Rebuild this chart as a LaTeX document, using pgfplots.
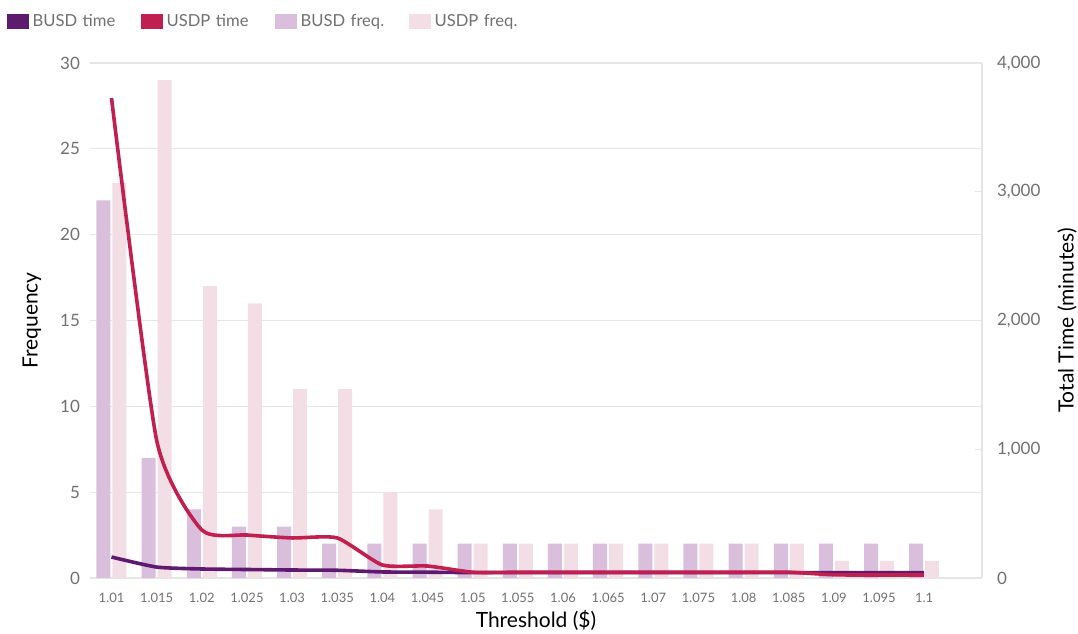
\documentclass[border=0pt]{standalone}
\usepackage{fontspec}
\setmainfont{Lato}
\usepackage{pgfplots}
\pgfplotsset{compat=1.18}
\definecolor{busdline}{HTML}{5E1A6E}
\definecolor{usdpline}{HTML}{C01F4F}
\definecolor{busdbar}{HTML}{D9BFDC}
\definecolor{usdpbar}{HTML}{F4DEE5}
\definecolor{ticklab}{HTML}{707070}
\definecolor{gridc}{HTML}{E6E6E6}
\begin{document}
\begin{tikzpicture}[x=0.5pt,y=0.5pt]
\useasboundingbox (-90,-55) rectangle (988,578);
\begin{axis}[
  at={(0,0)}, anchor=south west,
  scale only axis, width=446pt, height=257.5pt,
  xmin=-0.476, xmax=19.28, ymin=0, ymax=30,
  ytick={0,5,...,30},
  xtick={0,...,18},
  xticklabels={1.01,1.015,1.02,1.025,1.03,1.035,1.04,1.045,1.05,1.055,1.06,1.065,1.07,1.075,1.08,1.085,1.09,1.095,1.1},
  axis line style={draw=none},
  major tick length=0pt,
  ymajorgrids, grid style={gridc, line width=0.6pt},
  /pgf/number format/assume math mode=true,
  yticklabel style={font=\fontsize{8.5pt}{10pt}\selectfont, text=ticklab, xshift=-1.5pt},
  xticklabel style={font=\fontsize{6.5pt}{8pt}\selectfont, text=ticklab, yshift=-4pt},
  ylabel={Frequency},
  ylabel style={at={(axis description cs:-0.065,0.5)}, anchor=center, font=\fontsize{10.5pt}{12pt}\selectfont},
  xlabel={Threshold (\$)},
  xlabel style={at={(axis description cs:0.5,-0.0816)}, anchor=center, font=\fontsize{10.5pt}{12pt}\selectfont},
  legend columns=4,
  legend style={draw=none, at={(axis description cs:-0.094,1.096)}, anchor=north west,
    font=\fontsize{8.3pt}{10pt}\selectfont, text=ticklab, inner sep=0pt,
    nodes={text width=54pt, align=left, inner sep=0pt},
    /tikz/every odd column/.append style={column sep=2pt}},
  legend image code/.code={\fill[#1] (0pt,-3.75pt) rectangle (11pt,3.75pt);},
]
\addlegendimage{fill=busdline, draw=none}
\addlegendentry{BUSD time}
\addlegendimage{fill=usdpline, draw=none}
\addlegendentry{USDP time}
\addlegendimage{fill=busdbar, draw=none}
\addlegendentry{BUSD freq.}
\addlegendimage{fill=usdpbar, draw=none}
\addlegendentry{USDP freq.}
\addplot[ybar, bar width=7pt, bar shift=-4pt, fill=busdbar, draw=none, forget plot] coordinates {
(0,22) (1,7) (2,4) (3,3) (4,3) (5,2) (6,2) (7,2) (8,2) (9,2) (10,2) (11,2) (12,2) (13,2) (14,2) (15,2) (16,2) (17,2) (18,2)};
\addplot[ybar, bar width=7pt, bar shift=4pt, fill=usdpbar, draw=none, forget plot] coordinates {
(0,23) (1,29) (2,17) (3,16) (4,11) (5,11) (6,5) (7,4) (8,2) (9,2) (10,2) (11,2) (12,2) (13,2) (14,2) (15,2) (16,1) (17,1) (18,1)};
\end{axis}
\begin{axis}[
  at={(0,0)}, anchor=south west,
  scale only axis, width=446pt, height=257.5pt,
  xmin=-0.476, xmax=19.28, ymin=0, ymax=4000,
  axis x line=none,
  axis y line*=right,
  y axis line style={gridc, line width=0.6pt},
  ytick={0,1000,...,4000},
  tick align=inside, major tick length=3.5pt,
  major tick style={gridc, line width=0.6pt},
  /pgf/number format/1000 sep={,},
  /pgf/number format/assume math mode=true,
  yticklabel style={font=\fontsize{8.5pt}{10pt}\selectfont, text=ticklab, xshift=4pt},
  ylabel={Total Time (minutes)},
  ylabel style={at={(axis description cs:1.0953,0.5)}, anchor=center, font=\fontsize{10.5pt}{12pt}\selectfont},
]
\addplot[busdline, line width=1.8pt, smooth, tension=0.35] coordinates {
(0,163) (1,85) (2,70) (3,66) (4,62) (5,60) (6,47) (7,45) (8,42) (9,42) (10,42) (11,42) (12,42) (13,42) (14,42) (15,42) (16,42) (17,42) (18,42)};
\addplot[usdpline, line width=1.8pt, smooth, tension=0.35] coordinates {
(0,3728) (1,1070) (2,373) (3,334) (4,311) (5,311) (6,101) (7,93) (8,45) (9,45) (10,45) (11,45) (12,45) (13,45) (14,45) (15,45) (16,25) (17,23) (18,23)};
\end{axis}
\end{tikzpicture}
\end{document}
